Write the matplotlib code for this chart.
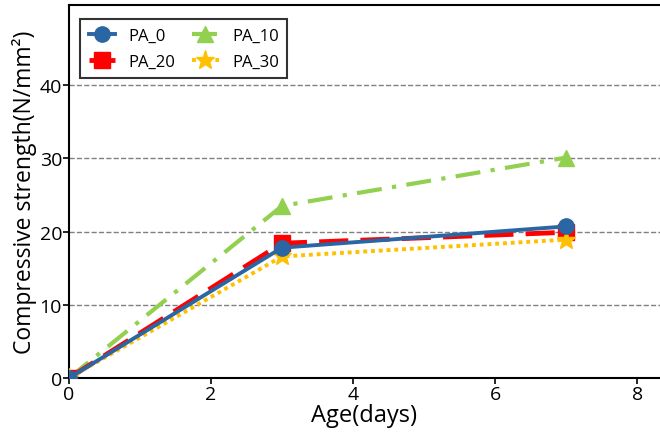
import matplotlib
matplotlib.use("Agg")
import matplotlib.pyplot as plt

# ── Data ─────────────────────────────────────────────────────────────────────
AGE_DAYS = [0, 3, 7]
PA_0  = [0.0, 17.8, 20.7]
PA_10 = [0.0, 23.5, 30.1]
PA_20 = [0.0, 18.4, 19.9]
PA_30 = [0.0, 16.6, 18.9]

plt.rcParams['font.family'] = ['Open Sans', 'DejaVu Sans']

fig = plt.figure(figsize=(6.6, 4.35), dpi=100)
ax = fig.add_axes([0.1045, 0.1287, 0.8955, 0.857])

l0, = ax.plot(AGE_DAYS, PA_0, color='#2966A3', lw=2.8, ls='-',
              marker='o', ms=11, label='PA_0', zorder=5)
l10, = ax.plot(AGE_DAYS, PA_10, color='#92D050', lw=3, ls=(0, (6, 2.5, 1, 2.5)),
               marker='^', ms=12, label='PA_10', zorder=3)
l20, = ax.plot(AGE_DAYS, PA_20, color='#FF0000', lw=3.5, ls=(0, (6, 2.5)),
               marker='s', ms=11, label='PA_20', zorder=4)
l30, = ax.plot(AGE_DAYS, PA_30, color='#FFC000', lw=2.8, ls=(0, (1, 1)),
               marker='*', ms=14, label='PA_30', zorder=4)

ax.set_xlim(0, 8.32)
ax.set_ylim(0, 50.9)
ax.set_xticks([0, 2, 4, 6, 8])
ax.set_yticks([0, 10, 20, 30, 40])
ax.yaxis.grid(True, ls='--', color='#808080', lw=1)
ax.set_axisbelow(True)

for side in ['left', 'bottom', 'top']:
    ax.spines[side].set_linewidth(1.5)
ax.spines['right'].set_visible(False)
ax.tick_params(labelsize=14, width=1.2, length=4, pad=1)

ax.set_xlabel('Age(days)', fontsize=17, labelpad=0)
ax.set_ylabel('Compressive strength(N/mm²)', fontsize=16.5, labelpad=2)

# column-first fill: row 1 = PA_0, PA_10 ; row 2 = PA_20, PA_30
leg = ax.legend([l0, l20, l10, l30], ['PA_0', 'PA_20', 'PA_10', 'PA_30'],
                loc='upper left', ncol=2, fontsize=12, frameon=True,
                fancybox=False, edgecolor='black', handlelength=1.6,
                columnspacing=1.0, handletextpad=0.8, labelspacing=0.6,
                bbox_to_anchor=(0.005, 0.985), borderpad=0.5)
leg.get_frame().set_linewidth(1.5)

fig.savefig('out.png', dpi=100)
